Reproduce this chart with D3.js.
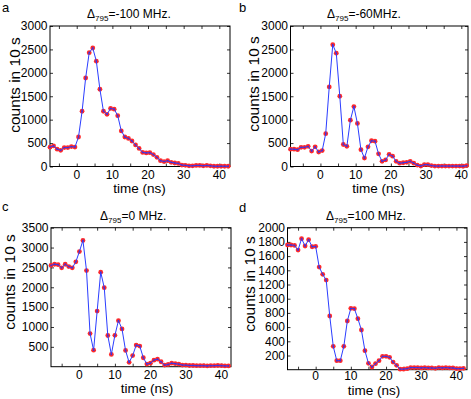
<!DOCTYPE html>
<html>
<head>
<meta charset="utf-8">
<script src="https://cdn.jsdelivr.net/npm/d3@7"></script>
<style>
html,body{margin:0;padding:0;background:#fff;}
svg{display:block;}
text{font-family:"Liberation Sans",Arial,sans-serif;fill:#000;}
</style>
</head>
<body>
<svg id="chart" width="471" height="399"></svg>
<script>
// ---------- data ----------
const timesA = [-7.5,-6.5,-5.5,-4.5,-3.5,-2.5,-1.5,-0.5,0.5,1.5,2.5,3.5,4.5,5.5,6.5,7.5,8.5,9.5,10.5,11.5,12.5,13.5,14.5,15.5,16.5,17.5,18.5,19.5,20.5,21.5,22.5,23.5,24.5,25.5,26.5,27.5,28.5,29.5,30.5,31.5,32.5,33.5,34.5,35.5,36.5,37.5,38.5,39.5,40.5,41.5,42.5];
const timesB = [-8.5,-7.5,-6.5,-5.5,-4.5,-3.5,-2.5,-1.5,-0.5,0.5,1.5,2.5,3.5,4.5,5.5,6.5,7.5,8.5,9.5,10.5,11.5,12.5,13.5,14.5,15.5,16.5,17.5,18.5,19.5,20.5,21.5,22.5,23.5,24.5,25.5,26.5,27.5,28.5,29.5,30.5,31.5,32.5,33.5,34.5,35.5,36.5,37.5,38.5,39.5,40.5,41.5];
const timesCD = [-8,-7,-6,-5,-4,-3,-2,-1,0,1,2,3,4,5,6,7,8,9,10,11,12,13,14,15,16,17,18,19,20,21,22,23,24,25,26,27,28,29,30,31,32,33,34,35,36,37,38,39,40,41,42];

const countsA = [412,440,370,345,405,405,425,415,630,1180,1890,2430,2530,2250,1650,1180,1115,1240,1225,1085,760,630,600,545,460,385,300,290,295,255,195,125,105,125,90,75,65,30,25,15,15,22,22,15,22,15,5,5,5,5,5];
const countsB = [370,370,360,410,410,430,330,420,310,340,700,1700,2600,2420,1500,470,430,990,1280,920,360,180,420,550,540,270,110,140,260,220,110,70,80,90,110,70,30,10,40,40,20,10,10,10,10,10,10,10,10,5,20];
const countsC = [2550,2580,2570,2490,2580,2520,2490,2640,2900,3180,2420,835,415,1400,2380,1990,785,310,790,1160,950,410,110,280,545,520,225,65,90,165,190,125,40,55,90,75,65,40,40,30,30,25,25,25,20,25,25,30,25,20,20];
const countsD = [1756,1756,1751,1685,1845,1742,1831,1732,1737,1446,1343,1263,756,329,127,127,329,686,864,859,718,559,268,90,38,85,127,188,188,174,108,61,8,8,15,30,30,30,25,30,25,25,20,30,25,30,25,25,15,15,20];

const xTickLabels = [0,10,20,30,40];
const xTickMarks = [-5,0,5,10,15,20,25,30,35,40];
const yTicksAB = [0,500,1000,1500,2000,2500,3000];
const yTicksC = [500,1000,1500,2000,2500,3000,3500];
const yTicksD = [200,400,600,800,1000,1200,1400,1600,1800,2000];
const detunings = ["=-100 MHz.","=-60MHz.","=0 MHz.","=100 MHz."];
const panelLetters = ["a","b","c","d"];
const xLabel = "time (ns)";
const yLabel = "counts in 10 s";

// ---------- layout ----------
const panels = [
  {t:timesA, v:countsA, yt:yTicksAB, xd:[-7.5,43], yd:[0,3000], box:[50,26,230,166.5],
   title:[87,18], letter:[2,11.5], ylab:[19.5,85], xlab:[139.5,192.5], xtickY:179},
  {t:timesB, v:countsB, yt:yTicksAB, xd:[-8.5,41.9], yd:[0,3000], box:[290.5,26,468,166.5],
   title:[327,18], letter:[239,12], ylab:[258.5,84], xlab:[378.5,192.5], xtickY:179},
  {t:timesCD, v:countsC, yt:yTicksC, xd:[-8,42.7], yd:[0,3500], box:[51,227.7,231,366.7],
   title:[100,220], letter:[2,210.5], ylab:[14.5,282], xlab:[147,392.5], xtickY:379},
  {t:timesCD, v:countsD, yt:yTicksD, xd:[-8,43], yd:[0,2000], box:[287.5,227.7,467,369.7],
   title:[326,220], letter:[239,212], ylab:[254.5,284], xlab:[374,395], xtickY:380}
];

const svg = d3.select("#chart");
const tickLen = 3;

function styleTicks(s){
  s.select(".domain").remove();
  s.selectAll("line").attr("stroke","#000").attr("stroke-width",0.8);
}

panels.forEach((p, i) => {
  const [x0,y0,x1,y1] = p.box;
  const x = d3.scaleLinear().domain(p.xd).range([x0,x1]);
  const y = d3.scaleLinear().domain(p.yd).range([y1,y0]);
  const g = svg.append("g");

  // inward tick marks on all four sides
  g.append("g").attr("transform",`translate(0,${y1})`)
    .call(d3.axisBottom(x).tickValues(xTickMarks).tickSize(-tickLen).tickFormat("")).call(styleTicks);
  g.append("g").attr("transform",`translate(0,${y0})`)
    .call(d3.axisTop(x).tickValues(xTickMarks).tickSize(-tickLen).tickFormat("")).call(styleTicks);
  g.append("g").attr("transform",`translate(${x0},0)`)
    .call(d3.axisLeft(y).tickValues(p.yt).tickSize(-tickLen).tickFormat("")).call(styleTicks);
  g.append("g").attr("transform",`translate(${x1},0)`)
    .call(d3.axisRight(y).tickValues(p.yt).tickSize(-tickLen).tickFormat("")).call(styleTicks);

  // x tick labels
  g.selectAll(".xtl").data(xTickLabels).enter().append("text")
    .attr("x", d=>x(d)).attr("y", p.xtickY).attr("text-anchor","middle")
    .attr("font-size",12).text(d=>d);
  // y tick labels
  g.selectAll(".ytl").data(p.yt).enter().append("text")
    .attr("x", x0-2.5).attr("y", d=>y(d)).attr("dy","0.36em").attr("text-anchor","end")
    .attr("font-size",12).text(d=>d);

  // box
  g.append("rect").attr("x",x0).attr("y",y0).attr("width",x1-x0).attr("height",y1-y0)
    .attr("fill","none").attr("stroke","#000").attr("stroke-width",1);

  // data
  const pts = p.t.map((t,k)=>[t,p.v[k]]);
  g.selectAll(".mk").data(pts).enter().append("circle")
    .attr("cx",d=>x(d[0])).attr("cy",d=>y(d[1])).attr("r",2.4)
    .attr("fill","#ff2a2a");
  g.append("path").datum(pts)
    .attr("d", d3.line().x(d=>x(d[0])).y(d=>y(d[1])))
    .attr("fill","none").attr("stroke","#2b3dff").attr("stroke-width",1);
  g.selectAll(".ctr").data(pts).enter().append("circle")
    .attr("cx",d=>x(d[0])).attr("cy",d=>y(d[1])).attr("r",0.9)
    .attr("fill","#4a2fd0");

  // title
  const tt = g.append("text").attr("x",p.title[0]).attr("y",p.title[1]).attr("font-size",12);
  tt.append("tspan").text("Δ");
  tt.append("tspan").attr("font-size",8).attr("dy",3).text("795");
  tt.append("tspan").attr("dy",-3).text(detunings[i]);

  // panel letter
  g.append("text").attr("x",p.letter[0]).attr("y",p.letter[1]).attr("font-size",13).text(panelLetters[i]);

  // axis labels
  g.append("text").attr("x",p.xlab[0]).attr("y",p.xlab[1]).attr("text-anchor","middle")
    .attr("font-size",13.5).text(xLabel);
  g.append("text").attr("transform",`translate(${p.ylab[0]},${p.ylab[1]}) rotate(-90)`)
    .attr("text-anchor","middle").attr("font-size",15.5).text(yLabel);
});
</script>
</body>
</html>
